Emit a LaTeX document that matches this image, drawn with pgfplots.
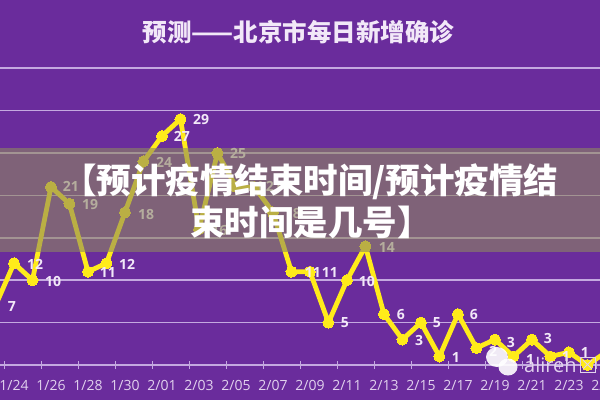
\documentclass[border=0pt]{standalone}
\usepackage{fontspec}
\setmainfont{Open Sans}
\newfontfamily\cjk{Noto Sans CJK SC}
\usepackage{pgfplots}
\usepackage{pgfplotstable}
\pgfplotsset{compat=1.18}
\definecolor{bg}{HTML}{6A2C9C}
\definecolor{gridc}{HTML}{C4A9E0}
\definecolor{ticktxt}{HTML}{E2D2EE}
\definecolor{valtxt}{HTML}{F2E8F8}
\definecolor{linec}{HTML}{FFEB1A}
\definecolor{bandc}{HTML}{8D8761}

% x = day index, 0 is 1/24
\pgfplotstableread{
x y
-1 7
0 12
1 10
2 21
3 19
4 11
5 12
6 18
7 24
8 27
9 29
10 16
11 25
12 21
13 21
14 18
15 11
16 11
17 5
18 10
19 14
20 6
21 3
22 5
23 1
24 6
25 2
26 3
27 1
28 3
29 1
30 1.5
31 0
32 1.5
}\cases

% value labels, placed where they stand in the picture
\pgfplotstableread{
x y label
-0.11 6.84 7
1.14 11.9 12
2.11 9.9 10
3.08 21.0 21
4.11 18.9 19
5.08 10.85 11
6.11 11.9 12
7.14 17.8 18
8.11 23.9 24
9.08 26.9 27
10.11 28.9 29
11.1 15.8 16
12.11 24.9 25
13.08 21 21
14.05 21 21
15.08 17.9 18
16.16 10.85 11
17.08 10.85 11
17.89 4.95 5
19.08 9.8 10
20.16 13.9 14
20.92 5.9 6
21.9 2.83 3
22.86 4.95 5
23.89 0.94 1
24.86 5.9 6
25.9 1.6 2
26.86 2.6 3
27.9 0.7 1
28.86 3.1 3
29.84 1 1
30.86 1.5 1
}\vals

\begin{document}
\begin{tikzpicture}[x=1pt,y=1pt]
\clip (0,0) rectangle (600,400);
\fill[bg] (0,0) rectangle (600,400);
\begin{axis}[
  at={(0,0)},anchor=south west,
  scale only axis,width=600pt,height=400pt,
  xmin=-0.757,xmax=31.68,ymin=-4.13,ymax=43.04,
  axis x line=middle,axis y line=left,
  every inner x axis line/.append style={-},
  x axis line style={gridc,line width=1.5pt},
  y axis line style={draw=none},
  xtick={-0.5,1.5,...,31.5},
  xticklabels={1/24,1/26,1/28,1/30,2/01,2/03,2/05,2/07,2/09,2/11,2/13,2/15,2/17,2/19,2/21,2/23,2/25},
  xticklabel style={text=ticktxt,xshift=9.25pt,yshift=-8pt,font=\fontsize{14}{16}\selectfont},
  x tick style={gridc,line width=1pt},
  y tick style={draw=none},
  major tick length=8pt,
  ytick={5,10,...,35},
  yticklabels={},
  ymajorgrids,
  y grid style={gridc,line width=1.5pt},
]
\addplot[linec,line width=4.8pt,line join=round,mark=*,mark size=5.5pt,mark options={fill=linec,draw=linec,line width=0pt}] table[x=x,y=y] {\cases};
\addplot[draw=none,nodes near coords,point meta=explicit symbolic,
  nodes near coords style={anchor=center,inner sep=0pt,text=valtxt,font=\fontsize{14}{16}\selectfont\bfseries}]
  table[x=x,y=y,meta=label] {\vals};
\end{axis}
% title
\node[text=valtxt,font=\cjk\bfseries\fontsize{24.5}{28}\selectfont] at (298.5,368) {预测——北京市每日新增确诊};
% grey band and the text laid over it
\fill[bandc,opacity=0.6] (0,148) rectangle (600,252);
\node[text=white,anchor=west,inner sep=0pt,font=\cjk\bfseries\fontsize{34.5}{40}\selectfont] at (62,218) {【预计疫情结束时间/预计疫情结};
\node[text=white,anchor=west,inner sep=0pt,font=\cjk\bfseries\fontsize{34.5}{40}\selectfont] at (190,178) {束时间是几号】};
% watermark
\fill[white,opacity=0.9] (497,43) ellipse (11pt and 10pt);
\fill[white,opacity=0.9] (508,33) ellipse (9.5pt and 8.5pt);
\node[text=ticktxt,anchor=west,inner sep=0pt,font=\fontsize{20}{24}\selectfont] at (524,35) {alireh};
\draw[ticktxt,line width=0.8pt] (580,28) rectangle (595,43);
\draw[ticktxt,line width=0.8pt] (583,31) -- (592,40) (583,40) -- (592,31);
\end{tikzpicture}
\end{document}
